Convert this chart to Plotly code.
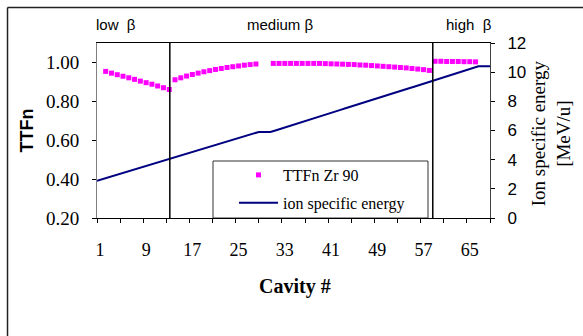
import plotly.graph_objects as go

# ---------------- data ----------------
cavity = list(range(1, 69))
ttf_low = [0.954, 0.945, 0.937, 0.929, 0.921, 0.913, 0.904, 0.896, 0.888, 0.879, 0.870, 0.861]  # cav 2-13
ttf_medium = [0.911, 0.921, 0.930, 0.938, 0.945, 0.952, 0.958, 0.964, 0.969, 0.974, 0.978, 0.982,
              0.986, 0.989, 0.992, None, None, 0.995, 0.995, 0.995, 0.995, 0.995, 0.995, 0.995,
              0.995, 0.995, 0.994, 0.993, 0.992, 0.991, 0.990, 0.989, 0.987, 0.986, 0.984, 0.982,
              0.980, 0.978, 0.976, 0.974, 0.972, 0.969, 0.966, 0.963, 0.959]  # cav 14-58
ttf_high = [1.006, 1.006, 1.005, 1.005, 1.005, 1.004, 1.004, 1.003]  # cav 59-66
ttf = [None] + ttf_low + ttf_medium + ttf_high + [None, None]

boundary = list(range(0, 69))  # energy after cavity n (0 = injection)
energy = [2.56, 2.68, 2.79, 2.91, 3.02, 3.14, 3.26, 3.37, 3.49, 3.60, 3.72, 3.84, 3.95, 4.07,
          4.19, 4.31, 4.43, 4.56, 4.68, 4.80, 4.92, 5.05, 5.17, 5.29, 5.41, 5.53, 5.66, 5.78,
          5.90, 5.90, 5.90, 6.02, 6.15, 6.27, 6.40, 6.52, 6.65, 6.77, 6.90, 7.02, 7.15, 7.27,
          7.40, 7.52, 7.65, 7.77, 7.90, 8.02, 8.15, 8.27, 8.40, 8.52, 8.65, 8.77, 8.90, 9.02,
          9.15, 9.27, 9.40, 9.53, 9.65, 9.78, 9.90, 10.03, 10.15, 10.28, 10.40, 10.40, 10.40]

x_labels = [1, 9, 17, 25, 33, 41, 49, 57, 65]
x_tick_marks = [0.5 + 4 * k for k in range(18)]
y_left_ticks = [0.2, 0.4, 0.6, 0.8, 1.0]
y_right_ticks = [0, 2, 4, 6, 8, 10, 12]
section_labels = ["low\u00a0\u00a0β", "medium\u00a0β", "high\u00a0\u00a0β"]
section_bounds = [13.1, 58.6]

SERIF = "Liberation Serif"
SANS = "Liberation Sans"

fig = go.Figure()
fig.add_trace(go.Scatter(
    x=cavity, y=ttf, mode="markers", name="TTFn Zr 90",
    marker=dict(symbol="square", size=5, color="#FF00FF", line=dict(width=0)),
    xaxis="x", yaxis="y", legendgroup="a",
))
fig.add_trace(go.Scatter(
    x=boundary, y=energy, mode="lines", name="ion specific energy",
    line=dict(color="#000080", width=2),
    xaxis="x2", yaxis="y2", legendgroup="b",
))

tickfont_serif = dict(family=SERIF, size=18, color="black")

fig.update_layout(
    width=583, height=336,
    margin=dict(l=97, r=93, t=43, b=118),
    paper_bgcolor="white", plot_bgcolor="white",
    showlegend=True,
    xaxis=dict(
        domain=[0, 1], range=[0.5, 68.5], tickmode="array",
        tickvals=x_labels, ticktext=[str(v) for v in x_labels],
        ticks="", showgrid=False, zeroline=False,
        showline=True, linecolor="black", linewidth=1, mirror=True,
        tickfont=tickfont_serif, ticklabelstandoff=15,
        minor=dict(tickmode="array", tickvals=x_tick_marks, ticks="outside",
                   ticklen=4, tickcolor="black", tickwidth=1, showgrid=False),
    ),
    xaxis3=dict(
        overlaying="x", anchor="y", range=[0.5, 68.5], tickmode="array",
        tickvals=x_tick_marks, ticks="inside", ticklen=4, tickcolor="black",
        showticklabels=False, showgrid=False, zeroline=False, showline=False,
    ),
    xaxis2=dict(
        overlaying="x", anchor="y2", range=[0, 68], visible=False,
    ),
    yaxis=dict(
        domain=[0, 1], range=[0.2, 1.1], tickmode="array",
        tickvals=y_left_ticks, ticktext=["%.2f" % v for v in y_left_ticks],
        ticks="outside", ticklen=4, tickcolor="black",
        showgrid=False, zeroline=False, showline=True, linecolor="#808080", linewidth=1,
        tickfont=dict(family=SERIF, size=19, color="black"), ticklabelstandoff=9,
    ),
    yaxis3=dict(
        overlaying="y", anchor="x", side="left", range=[0.2, 1.1], tickmode="array",
        tickvals=y_left_ticks, ticks="inside", ticklen=4, tickcolor="black",
        showticklabels=False, showgrid=False, zeroline=False, showline=False,
    ),
    yaxis2=dict(
        overlaying="y", anchor="x", side="right", range=[0, 12], tickmode="array",
        tickvals=y_right_ticks, ticks="outside", ticklen=4, tickcolor="black",
        showgrid=False, zeroline=False, showline=True, linecolor="#404040", linewidth=1,
        tickfont=dict(family=SANS, size=17, color="black"), ticklabelstandoff=9,
    ),
    yaxis4=dict(
        overlaying="y", anchor="x", side="right", range=[0, 12], tickmode="array",
        tickvals=y_right_ticks, ticks="inside", ticklen=4, tickcolor="black",
        showticklabels=False, showgrid=False, zeroline=False, showline=False,
    ),
    legend=dict(
        x=0.3486, y=0.343, xanchor="left", yanchor="top",
        bgcolor="rgba(0,0,0,0)", borderwidth=0,
        font=dict(family=SERIF, size=16, color="black"),
        itemwidth=39, traceorder="grouped", tracegroupgap=4,
    ),
)

shapes = []
# legend frame
shapes.append(dict(type="rect", xref="paper", yref="paper", x0=0.2952, x1=0.8422, y0=0, y1=0.3257,
                   line=dict(color="#333333", width=1), fillcolor="white", layer="below"))
# section dividers
for b in section_bounds:
    shapes.append(dict(type="line", xref="x", yref="paper", x0=b, x1=b, y0=0, y1=1,
                       line=dict(color="black", width=1.5)))
# outer frame (top and left edges)
shapes.append(dict(type="line", xref="paper", yref="paper", x0=-0.2277, x1=1.3, y0=1.2029, y1=1.2029,
                   line=dict(color="#222222", width=1.5)))
shapes.append(dict(type="line", xref="paper", yref="paper", x0=-0.2277, x1=-0.2277, y0=1.2029, y1=-0.8,
                   line=dict(color="#222222", width=1.5)))
fig.update_layout(shapes=shapes)

ann = []
sec_x = [0.0496, 0.468, 0.947]
for t, xx in zip(section_labels, sec_x):
    ann.append(dict(text=t, x=xx, y=1.103, xref="paper", yref="paper", showarrow=False,
                    xanchor="center", yanchor="middle", font=dict(family=SANS, size=15, color="black")))
ann.append(dict(text="<b>TTFn</b>", x=-0.177, y=0.503, xref="paper", yref="paper", showarrow=False,
                textangle=-90, xanchor="center", yanchor="middle",
                font=dict(family=SANS, size=18, color="black")))
ann.append(dict(text="<b>Cavity #</b>", x=0.504, y=-0.394, xref="paper", yref="paper", showarrow=False,
                xanchor="center", yanchor="middle", font=dict(family=SERIF, size=20, color="black")))
ann.append(dict(text="Ion specific energy<br>[MeV/u]", x=1.156, y=0.486, xref="paper", yref="paper",
                showarrow=False, textangle=-90, xanchor="center", yanchor="middle",
                font=dict(family=SERIF, size=19, color="black")))
fig.update_layout(annotations=ann)

fig.write_html("out.html", config={"displayModeBar": False},
               post_script="document.body.style.margin='0';")
